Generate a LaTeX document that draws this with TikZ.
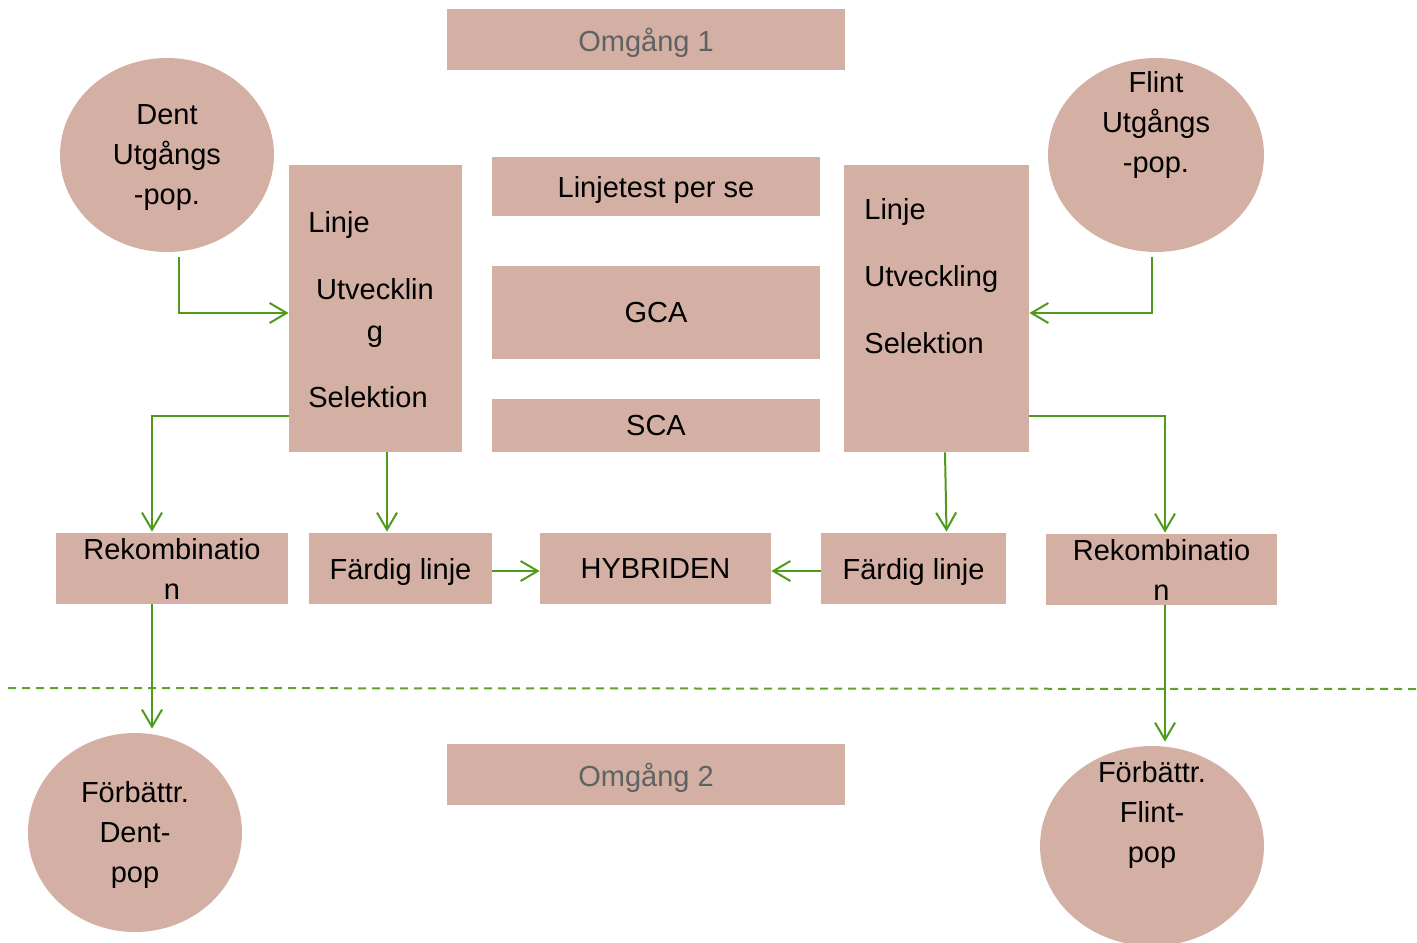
\documentclass[tikz,border=0pt]{standalone}
\usepackage{fontspec}
\setmainfont{Liberation Sans}
\usetikzlibrary{arrows.meta,shapes.geometric}
\definecolor{boxfill}{HTML}{D4B0A4}
\definecolor{arrgreen}{HTML}{4F9A1C}
\definecolor{dashgreen}{HTML}{5FA22E}
\definecolor{graytext}{HTML}{5F6262}
\begin{document}
\begin{tikzpicture}[x=0.5pt,y=-0.5pt,
  txt/.style={font=\fontsize{14.5}{20}\selectfont},
  box/.style={fill=boxfill, draw=none, inner sep=0pt, txt, align=center},
  flat/.style={text depth=0pt},
  oval/.style={ellipse, fill=boxfill, draw=none, inner sep=0pt, txt, align=center},
  lbl/.style={inner sep=0pt, txt},
  arr/.style={draw=arrgreen, line width=1pt, -{Straight Barb[length=8.5pt,width=10pt,line width=1pt]}}
]
\useasboundingbox (0,0) rectangle (1417,942);

% top title
\node[box, flat, minimum width=199pt, minimum height=30.5pt, text=graytext] (om1) at (646,39.5) {Omgång 1};

% source populations
\node[oval, minimum width=107pt, minimum height=97pt] (dent) at (167,155) {};
\node[lbl, align=center] (denttxt) at (167,158) {Dent\\Utgångs\\-pop.};
\node[oval, minimum width=108pt, minimum height=97pt] (flint) at (1156,155) {};
\node[lbl, align=center] (flinttxt) at (1156,125) {Flint\\Utgångs\\-pop.};

% tall boxes
\node[box, minimum width=86.5pt, minimum height=143.5pt] (lbox) at (375.5,308.5) {};
\node[lbl, anchor=base west] (l1) at (308,232) {Linje};
\node[lbl, anchor=base] (l2) at (375,299) {Utvecklin};
\node[lbl, anchor=base] (l3) at (375,341) {g};
\node[lbl, anchor=base west] (l4) at (308,407) {Selektion};

\node[box, minimum width=92.5pt, minimum height=143.5pt] (rbox) at (936.5,308.5) {};
\node[lbl, anchor=base west] (r1) at (864,219) {Linje};
\node[lbl, anchor=base west] (r2) at (864,286) {Utveckling};
\node[lbl, anchor=base west] (r3) at (864,353) {Selektion};

% middle boxes
\node[box, flat, minimum width=164pt, minimum height=29.5pt] (lt) at (656,186.5) {Linjetest per se};
\node[box, flat, minimum width=164pt, minimum height=46.5pt] (gca) at (656,312.5) {GCA};
\node[box, flat, minimum width=164pt, minimum height=26.5pt] (sca) at (656,425.5) {SCA};

% row of boxes
\node[box, minimum width=116pt, minimum height=35.5pt] (rekL) at (172,568.5) {Rekombinatio\\n};
\node[box, flat, minimum width=91.5pt, minimum height=35.5pt] (fardL) at (400.5,568.5) {Färdig linje};
\node[box, flat, minimum width=115.5pt, minimum height=35.5pt] (hyb) at (655.5,568.5) {HYBRIDEN};
\node[box, flat, minimum width=92.5pt, minimum height=35.5pt] (fardR) at (913.5,568.5) {Färdig linje};
\node[box, minimum width=115.5pt, minimum height=35.5pt] (rekR) at (1161.5,569.5) {Rekombinatio\\n};

% dashed separator
\draw[dashgreen, line width=1pt, dash pattern=on 4pt off 3pt] (8,688) -- (1417,689);

% second round
\node[box, flat, minimum width=199pt, minimum height=30.5pt, text=graytext] (om2) at (646,774.5) {Omgång 2};
\node[oval, minimum width=107pt, minimum height=99.5pt] (fdent) at (135,832.5) {};
\node[lbl, align=center] (fdenttxt) at (135,835) {Förbättr.\\Dent-\\pop};
\node[oval, minimum width=112pt, minimum height=100pt] (fflint) at (1152,846) {};
\node[lbl, align=center] (fflinttxt) at (1152,815) {Förbättr.\\Flint-\\pop};

% connectors
\draw[arr] ([shift={(12,5)}]dent.south) |- ([shift={(0,4.5)}]lbox.west);
\draw[arr] ([shift={(-4,5)}]flint.south) |- ([shift={(0,4.5)}]rbox.east);
\draw[arr] ([shift={(0,107.5)}]lbox.west) -| ([shift={(-20,-1)}]rekL.north);
\draw[arr] ([shift={(11.5,0)}]lbox.south) -- ([shift={(11.5,-1)}]lbox.south |- fardL.north);
\draw[arr] ([shift={(8.5,0)}]rbox.south) -- ([shift={(10,-1)}]rbox.south |- fardR.north);
\draw[arr] ([shift={(0,107.5)}]rbox.east) -| ([shift={(3.5,-1)}]rekR.north);
\draw[arr] ([yshift=-1.25pt]fardL.east) -- ([yshift=-1.25pt]hyb.west);
\draw[arr] ([yshift=-1.25pt]fardR.west) -- ([yshift=-1.25pt]hyb.east);
\draw[arr, shorten >=2pt] ([xshift=-10pt]rekL.south) -- ([xshift=-10pt]rekL.south |- fdent.north);
\draw[arr, shorten >=2pt] ([xshift=1.75pt]rekR.south) -- ([xshift=1.75pt]rekR.south |- fflint.north);
\end{tikzpicture}
\end{document}
